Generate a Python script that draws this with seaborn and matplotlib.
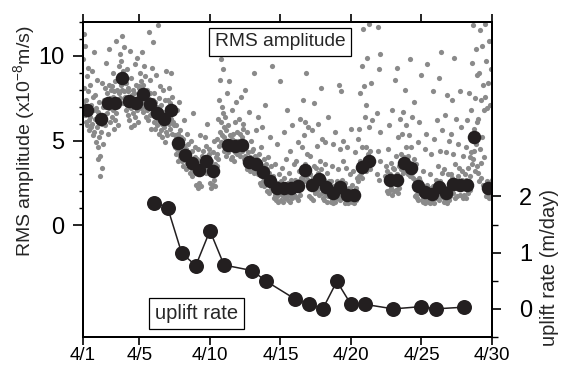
import matplotlib

matplotlib.use("Agg")
import matplotlib.pyplot as plt
import matplotlib.ticker as mticker
import numpy as np
import seaborn as sns


GRAY = "#8a8a8a"
BLACK = "#231f20"

# 45-min RMS amplitude samples (x10^-8 m/s), 32 per day from 4/1 00:00, None = no data
rms_gray = [
    # 4/1
    7.2, 9.8, 11.3, 8.1, 6.5, 10.6, 7.4, 6.1, 8.8, 5.9, 6.6, 7.9, 9.3, 6.2, 5.6, 7.0,
    6.4, 8.3, 5.8, 7.1, 9.1, 6.0, 5.3, 7.6, 6.8, 10.2, 5.5, 6.3, 7.7, 4.9, 6.9, 8.6,
    # 4/2
    5.8, 4.6, 6.7, 3.9, 5.2, 7.3, 4.1, 2.9, 6.2, 5.5, 3.4, 8.4, 6.0, 4.8, 7.0, 6.5,
    7.4, 6.3, 8.1, 5.9, 7.0, 9.6, 6.6, 7.8, 5.4, 7.2, 10.4, 6.9, 8.3, 7.5, 6.1, 8.0,
    # 4/3
    7.1, 8.2, 6.4, 7.6, 9.0, 6.8, 5.7, 7.9, 8.5, 6.2, 10.9, 7.3, 6.6, 8.0, 7.4, 5.9,
    8.6, 9.4, 7.8, 10.1, 8.9, 7.5, 9.7, 8.3, 11.2, 8.0, 9.1, 7.2, 8.8, 10.5, 7.9, 8.4,
    # 4/4
    7.6, 6.8, 8.4, 7.1, 9.2, 6.5, 7.9, 8.1, 6.2, 7.4, 10.3, 7.0, 8.7, 6.9, 5.8, 7.7,
    7.3, 6.6, 8.0, 7.8, 5.9, 9.5, 7.1, 6.4, 8.3, 7.0, 6.8, 9.9, 7.5, 6.1, 8.2, 7.2,
    # 4/5
    8.1, 7.4, 9.0, 6.9, 8.5, 7.7, 10.2, 7.2, 8.3, 6.7, 7.9, 9.4, 7.0, 8.8, 6.4, 7.6,
    7.3, 6.8, 8.0, 6.2, 7.5, 11.4, 6.9, 7.8, 6.5, 8.6, 7.1, 5.7, 9.3, 6.6, 7.4, 10.8,
    # 4/6
    6.9, 7.8, 6.1, 5.7, 7.3, 8.9, 6.4, 5.9, 7.0, 6.6, 11.8, 6.2, 7.5, 5.4, 6.8, 8.2,
    6.3, 5.6, 7.1, 6.0, 5.2, 6.7, 8.0, 5.8, 6.4, 4.9, 7.4, 6.1, 5.5, 9.1, 6.9, 5.3,
    # 4/7
    6.5, 7.4, 6.0, 8.1, 6.9, 5.7, 7.2, 6.3, 9.0, 6.7, 5.4, 7.6, 6.1, 7.0, 5.9, 6.6,
    5.3, 4.6, 5.9, 4.2, 5.0, 6.8, 4.5, 3.8, 5.4, 4.9, 7.3, 4.3, 5.6, 4.0, 4.7, 5.2,
    # 4/8
    4.4, 3.8, 5.1, 4.0, 3.5, 4.7, 6.2, 4.2, 3.9, 4.5, 3.3, 5.4, 4.1, 3.7, 4.8, 4.3,
    3.6, 4.2, 3.1, 3.9, 5.0, 3.4, 3.8, 2.9, 4.4, 3.5, 6.6, 3.7, 3.2, 4.0, 3.6, 4.6,
    # 4/9
    3.4, 2.4, 3.9, 3.1, 4.5, 2.2, 3.3, 3.7, 2.5, 5.3, 3.0, 3.5, 2.3, 3.2, 4.1, 3.6,
    3.9, 4.4, 3.3, 3.7, 5.2, 3.5, 4.0, 3.1, 4.7, 3.6, 6.0, 3.8, 3.2, 4.2, 3.4, 4.5,
    # 4/10
    3.3, 2.5, 3.8, 2.2, 3.5, 3.0, 4.3, 2.4, 3.4, 2.7, 5.0, 2.3, 3.6, 3.2, 4.0, 3.5,
    4.2, 5.1, 3.9, 6.3, 4.7, 7.4, 5.5, 8.6, 4.9, 9.8, 6.1, 7.0, 5.3, 9.2, 6.6, 5.8,
    # 4/11
    5.2, 4.4, 6.4, 4.9, 5.6, 4.1, 7.8, 4.7, 5.0, 4.3, 5.9, 4.6, 8.5, 4.8, 5.3, 3.9,
    4.5, 5.1, 4.0, 6.8, 4.7, 5.4, 3.8, 4.9, 6.1, 4.3, 5.0, 7.3, 4.6, 4.2, 5.5, 4.8,
    # 4/12
    5.0, 4.3, 6.3, 4.6, 5.4, 4.1, 7.6, 4.8, 5.2, 4.4, 6.0, 4.7, 5.7, 3.9, 4.9, 8.0,
    4.1, 3.6, 4.6, 3.3, 5.5, 3.9, 3.5, 4.3, 6.7, 3.7, 3.2, 4.0, 3.8, 5.0, 3.4, 4.4,
    # 4/13
    3.8, 3.3, 4.5, 3.6, 9.0, 3.1, 4.1, 3.5, 5.6, 3.2, 3.9, 3.4, 6.4, 3.7, 3.0, 4.2,
    3.4, 2.5, 3.7, 3.1, 4.6, 2.4, 3.3, 5.8, 2.6, 3.5, 2.3, 3.9, 3.2, 7.1, 2.9, 3.6,
    # 4/14
    2.8, 3.3, 2.0, 2.9, 4.0, 2.5, 3.1, 1.9, 5.2, 2.7, 2.2, 3.5, 2.1, 9.4, 2.9, 2.4,
    2.3, 1.6, 2.7, 1.8, 3.6, 1.5, 2.4, 2.2, 4.8, 1.7, 2.5, 1.4, 3.0, 2.3, 8.5, 1.9,
    # 4/15
    2.3, 1.5, 2.6, 1.8, 3.4, 2.2, 1.4, 2.8, 5.5, 2.1, 2.4, 1.6, 3.9, 2.2, 1.7, 6.8,
    2.1, 2.5, 1.5, 3.1, 2.2, 1.4, 4.4, 2.3, 1.7, 2.7, 1.6, 5.9, 2.1, 2.4, 3.6, 1.8,
    # 4/16
    2.4, 1.7, 2.7, 2.2, 3.8, 1.6, 2.5, 4.9, 1.5, 2.3, 3.2, 2.6, 6.3, 1.8, 2.8, 2.2,
    3.3, 4.6, 2.8, 7.4, 3.0, 5.3, 2.6, 3.6, 6.1, 2.9, 3.4, 9.0, 3.1, 4.2, 2.7, 5.8,
    # 4/17
    2.5, 1.7, 3.0, 2.3, 4.1, 1.6, 2.6, 5.6, 2.2, 2.8, 1.5, 3.5, 2.4, 7.2, 1.9, 2.7,
    2.8, 3.4, 2.0, 4.7, 2.6, 3.1, 6.0, 1.8, 2.9, 3.8, 2.2, 8.1, 2.7, 3.3, 1.9, 5.1,
    # 4/18
    2.3, 1.6, 2.7, 1.5, 3.6, 2.2, 4.9, 1.8, 2.5, 1.4, 3.1, 2.4, 6.4, 1.7, 2.6, 2.2,
    1.9, 2.2, 1.4, 2.6, 1.5, 3.5, 2.0, 1.3, 4.8, 1.9, 2.3, 1.4, 5.5, 2.1, 1.6, 2.4,
    # 4/19
    2.2, 2.6, 1.6, 3.3, 1.8, 8.3, 2.4, 1.5, 4.5, 2.3, 7.9, 1.7, 2.7, 3.8, 2.2, 5.0,
    1.8, 2.1, 1.3, 2.5, 1.5, 3.4, 1.4, 2.0, 4.6, 1.6, 1.3, 2.2, 1.9, 3.0, 1.5, 5.7,
    # 4/20
    1.8, 2.1, 1.4, 2.4, 1.5, 3.2, 1.3, 2.0, 1.4, 4.3, 1.6, 2.2, 1.5, 2.8, 1.9, 5.1,
    2.6, 3.4, 5.7, 2.9, 3.8, 7.8, 3.1, 3.6, 9.4, 2.8, 4.6, 11.6, 3.3, 8.2, 3.5, 6.4,
    # 4/21
    3.9, 4.6, 3.2, 7.1, 3.6, 9.9, 3.5, 4.2, 5.8, 11.9, 3.7, 4.4, 3.3, 8.4, 3.8, 6.2,
    None, None, None, None, None, None, None, None, None, None, None, 3.0, 6.6, 11.7, 4.4, 9.2,
    # 4/22
    2.7, 5.5, 10.1, 3.8, None, None, None, None, None, None, None, None, None, None, 2.9, 3.5,
    2.6, 3.2, 2.0, 4.5, 2.8, 1.9, 5.9, 2.7, 3.0, 2.1, 3.7, 2.2, 6.8, 2.9, 1.8, 3.4,
    # 4/23
    2.8, 2.0, 3.3, 2.6, 8.6, 2.9, 4.1, 2.1, 3.0, 9.3, 1.9, 5.2, 2.7, 3.5, 2.2, 6.3,
    3.6, 4.2, 3.3, 5.4, 3.8, 3.1, 6.7, 3.5, 4.0, 3.4, 8.0, 3.7, 4.6, 3.2, 5.9, 3.9,
    # 4/24
    3.4, 3.0, 4.1, 3.2, 5.3, 2.9, 3.7, 9.8, 3.3, 4.6, 3.1, 6.4, 3.5, 2.8, 3.9, 7.3,
    2.4, 1.7, 2.7, 1.8, 3.6, 1.6, 2.5, 4.9, 2.3, 1.5, 2.8, 6.1, 1.9, 2.6, 8.9, 2.1,
    # 4/25
    2.0, 1.5, 2.3, 1.4, 3.2, 1.6, 2.1, 4.5, 1.3, 2.0, 5.4, 1.5, 2.4, 9.5, 1.7, 2.2,
    1.9, 1.4, 2.2, 1.3, 3.0, 1.5, 4.2, 2.0, 1.4, 7.9, 1.6, 2.3, 1.3, 5.1, 1.8, 2.1,
    # 4/26
    2.3, 1.6, 2.7, 6.2, 1.8, 3.5, 2.4, 8.7, 1.5, 2.6, 4.4, 2.2, 10.2, 1.7, 3.1, 5.6,
    1.9, 2.3, 1.4, 3.3, 1.6, 6.5, 1.5, 2.2, 4.3, 1.9, 1.3, 7.7, 2.1, 3.0, 1.5, 5.0,
    # 4/27
    2.5, 1.7, 3.0, 5.4, 2.3, 2.8, 7.4, 1.9, 4.2, 2.2, 9.9, 2.6, 3.6, 1.6, 6.3, 2.7,
    2.4, 1.7, 2.9, 4.8, 2.2, 3.4, 2.6, 7.9, 1.8, 2.5, 5.8, 2.3, 3.2, 2.7, 4.1, 1.6,
    # 4/28
    2.5, 1.8, 3.0, 2.3, 4.6, 2.7, 1.6, 6.2, 2.4, 3.4, 1.9, 7.8, 2.6, 2.9, 4.0, 2.1,
    4.3, 6.8, 3.6, 9.6, 5.1, 3.9, 11.8, 5.7, 4.4, 7.5, 3.2, 10.4, 4.8, 6.1, 3.5, 8.9,
    # 4/29
    3.1, 6.3, 2.6, 9.0, 4.5, 11.5, 2.8, 7.4, 3.7, 10.6, 5.2, 2.4, 8.3, 4.0, 6.8, 11.9,
    2.3, 7.6, 1.7, 9.7, 2.6, 6.9, 1.8, 8.4, 2.4, 10.9, 1.6, 7.1, 2.5, 2.0, 9.2, 2.7,
]

# half-day RMS amplitude, centred at d+0.25 and d+0.75 (4/1 .. 4/29)
rms_halfday = [
    6.8, None, 6.3, 7.2, 7.2, 8.7, 7.35, 7.2, 7.75, 7.15,
    6.65, 6.25, 6.8, 4.85, 4.15, 3.65, 3.25, 3.8, 3.2, None,
    4.75, 4.7, 4.75, 3.75, 3.6, 3.15, 2.6, 2.2, 2.2, 2.2,
    2.3, 3.25, 2.4, 2.75, 2.25, 1.9, 2.25, 1.8, 1.8, 3.45,
    3.8, None, None, 2.7, 2.7, 3.65, 3.35, 2.3, 1.95, 1.85,
    2.25, 1.9, 2.45, 2.4, 2.4, 5.2, None, 2.2,
]

# daily uplift rate (m/day)
uplift_day = [6, 7, 8, 9, 10, 11, 13, 14, 16, 17, 18, 19, 20, 21, 23, 25, 26, 28]
uplift_rate = [1.89, 1.80, 0.99, 0.77, 1.39, 0.78, 0.68, 0.49, 0.18, 0.08,
               0.0, 0.49, 0.08, 0.08, 0.0, 0.04, 0.0, 0.03]

date_ticks = [1, 5, 10, 15, 20, 25, 30]
date_labels = ["4/1", "4/5", "4/10", "4/15", "4/20", "4/25", "4/30"]
rms_ticks = [0, 5, 10]
rms_minor = [1, 2, 3, 4, 6, 7, 8, 9, 11, 12]
uplift_ticks = [0, 1, 2]
uplift_minor = [-0.5, 0.5, 1.5]

SAMPLES_PER_DAY = 32


def main() -> None:
    sns.set_style("ticks")
    plt.rcParams["font.family"] = ["Liberation Sans", "DejaVu Sans"]
    plt.rcParams["mathtext.default"] = "regular"

    gray_y = np.array(rms_gray, dtype=float)
    gray_t = 1 + np.arange(len(gray_y)) / SAMPLES_PER_DAY
    half_y = np.array(rms_halfday, dtype=float)
    half_t = 1.25 + 0.5 * np.arange(len(half_y))

    fig = plt.figure(figsize=(5.66, 3.66), dpi=100)
    ax = fig.add_axes([83 / 566, 29 / 366, 409 / 566, 315 / 366])

    sns.scatterplot(x=gray_t, y=gray_y, ax=ax, color=GRAY, s=14, linewidth=0, legend=False)
    sns.scatterplot(x=half_t, y=half_y, ax=ax, color=BLACK, s=95, linewidth=0, legend=False)

    ax.set_xlim(1, 30)
    ax.set_ylim(-6.6, 12)
    ax.set_xticks(date_ticks, labels=date_labels)
    ax.set_yticks(rms_ticks)
    ax.yaxis.set_minor_locator(mticker.FixedLocator(rms_minor))
    ax.tick_params(axis="x", which="major", top=True, direction="out", length=6,
                   width=1.2, labelsize=13.5, pad=1.5, colors="black")
    ax.tick_params(axis="y", which="major", direction="out", length=7.4, width=1.2,
                   labelsize=17, pad=6, colors="black")
    ax.tick_params(axis="y", which="minor", direction="out", length=3.1, width=1.0,
                   colors="black")
    ax.set_ylabel("RMS amplitude (x10$^{-8}$m/s)", fontsize=14)
    ax.yaxis.set_label_coords(-0.112, 0.62)
    ax.set_xlabel("")

    ax2 = ax.twinx()
    sns.lineplot(x=uplift_day, y=uplift_rate, ax=ax2, color=BLACK, lw=1.1,
                 marker="o", markersize=10.8, markeredgewidth=0)
    ax2.set_ylim(-0.5, 5.1)
    ax2.set_yticks(uplift_ticks)
    ax2.yaxis.set_minor_locator(mticker.FixedLocator(uplift_minor))
    ax2.tick_params(axis="y", which="major", direction="out", length=6.5, width=1.2,
                    labelsize=17, pad=13, colors="black")
    ax2.tick_params(axis="y", which="minor", direction="out", length=4, width=1.0,
                    colors="black")
    ax2.set_ylabel("uplift rate (m/day)", fontsize=14.5)
    ax2.yaxis.set_label_coords(1.117, 0.222)

    for a in (ax, ax2):
        for spine in a.spines.values():
            spine.set_linewidth(1.4)
            spine.set_color("black")

    box = dict(boxstyle="square,pad=0.3", fc="white", ec="black", lw=0.9)
    ax2.text(0.482, 0.937, "RMS amplitude", transform=ax2.transAxes, ha="center",
             va="center", fontsize=13.8, bbox=box, zorder=5)
    ax2.text(0.278, 0.076, "uplift rate", transform=ax2.transAxes, ha="center",
             va="center", fontsize=14.5, bbox=box, zorder=5)

    fig.savefig("out.png", dpi=100)
    plt.close(fig)


if __name__ == "__main__":
    main()
